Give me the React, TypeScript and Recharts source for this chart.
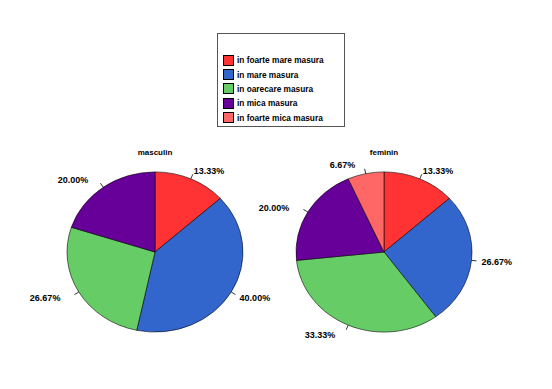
import { PieChart, Pie, Cell, Sector } from 'recharts';

const categories = ['in foarte mare masura', 'in mare masura', 'in oarecare masura', 'in mica masura', 'in foarte mica masura'];
const colors = ['#FF3333', '#3366CC', '#66CC66', '#660099', '#FF6666'];
const masculinValues = [13.33, 40.0, 26.67, 20.0, 0];
const femininValues = [13.33, 26.67, 33.33, 20.0, 6.67];

const RADIAN = Math.PI / 180;
const SQUASH = 0.91; // pies are drawn a little flatter than round

const toData = (values: number[]) =>
    values
        .map((v, i) => ({ name: categories[i], value: v, color: colors[i] }))
        .filter((d) => d.value > 0);

const flatSector = (props: any) => (
    <g transform={`translate(0 ${props.cy * (1 - SQUASH)}) scale(1 ${SQUASH})`}>
        <Sector {...props} />
    </g>
);

const renderLabel = ({ cx, cy, midAngle, outerRadius, value }: any) => {
    const cos = Math.cos(-midAngle * RADIAN);
    const sin = Math.sin(-midAngle * RADIAN);
    const ry = outerRadius * SQUASH;
    const x1 = cx + outerRadius * cos;
    const y1 = cy + ry * sin;
    const x2 = cx + (outerRadius + 5) * cos;
    const y2 = cy + (ry + 5) * sin;
    const right = cos >= 0;
    const tx = cx + (outerRadius + 12) * cos + (right ? -2 : -8);
    const ty = cy + (ry + 10) * sin + 1;
    return (
        <g>
            <line x1={x1} y1={y1} x2={x2} y2={y2} stroke="#000" strokeWidth={0.8} />
            <text
                x={tx}
                y={ty}
                textAnchor={right ? 'start' : 'end'}
                dominantBaseline="central"
                fontFamily="Liberation Sans, Arial, sans-serif"
                fontWeight="bold"
                fontSize={9}
                fill="#000"
            >
                {value.toFixed(2)}%
            </text>
        </g>
    );
};

export default function App() {
    const masc = toData(masculinValues);
    const fem = toData(femininValues);
    const pieProps = {
        dataKey: 'value',
        nameKey: 'name',
        cy: 252,
        outerRadius: 88,
        startAngle: 90,
        endAngle: -270,
        stroke: '#000',
        strokeWidth: 0.6,
        label: renderLabel,
        labelLine: false,
        shape: flatSector,
        inactiveShape: flatSector,
        activeShape: flatSector,
        isAnimationActive: false,
    };
    return (
        <div style={{ position: 'absolute', left: 0, top: 0, width: 552, height: 389, background: '#fff' }}>
            <PieChart width={552} height={389} margin={{ top: 0, right: 0, bottom: 0, left: 0 }}>
                <text x={155} y={155} textAnchor="middle" fontFamily="Liberation Sans, Arial, sans-serif" fontWeight="bold" fontSize={8}>masculin</text>
                <text x={384} y={155} textAnchor="middle" fontFamily="Liberation Sans, Arial, sans-serif" fontWeight="bold" fontSize={8}>feminin</text>
                <Pie {...(pieProps as any)} data={masc} cx={155}>
                    {masc.map((d, i) => (
                        <Cell key={i} fill={d.color} />
                    ))}
                </Pie>
                <Pie {...(pieProps as any)} data={fem} cx={384}>
                    {fem.map((d, i) => (
                        <Cell key={i} fill={d.color} />
                    ))}
                </Pie>
            </PieChart>
            <div
                style={{
                    position: 'absolute',
                    left: 217,
                    top: 33,
                    width: 128,
                    height: 94,
                    border: '1px solid #555',
                    background: '#fff',
                    boxSizing: 'border-box',
                    paddingTop: 19,
                    paddingLeft: 5,
                }}
            >
                {categories.map((c, i) => (
                    <div key={c} style={{ display: 'flex', alignItems: 'center', height: 14.4 }}>
                        <span style={{ width: 9, height: 9, background: colors[i], border: '1px solid #000', marginRight: 3, flexShrink: 0 }} />
                        <span style={{ fontFamily: 'Liberation Sans, Arial, sans-serif', fontSize: 8.3, fontWeight: 'bold', color: '#000', whiteSpace: 'nowrap' }}>{c}</span>
                    </div>
                ))}
            </div>
        </div>
    );
}
